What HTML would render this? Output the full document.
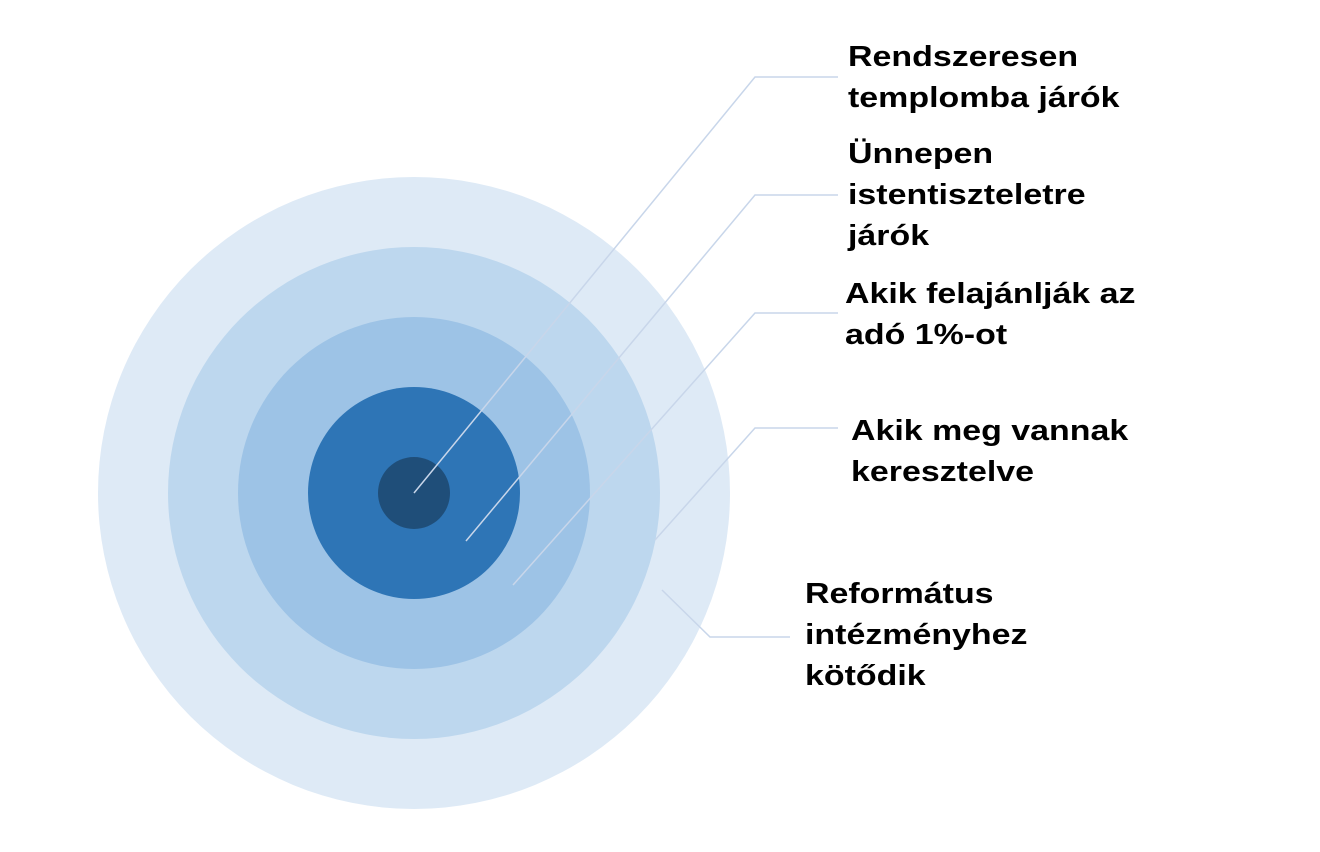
<!DOCTYPE html>
<html><head><meta charset="utf-8"><style>
html,body{margin:0;padding:0;background:#fff;width:1320px;height:852px;overflow:hidden}
.t{position:absolute;font-family:"Segoe UI","Liberation Sans",sans-serif;font-weight:bold;font-size:29px;line-height:41px;color:#000;white-space:nowrap;transform:scaleX(1.17);transform-origin:0 0}
</style></head><body>
<svg width="1320" height="852" style="position:absolute;left:0;top:0">
<circle cx="414" cy="493" r="316" fill="#deeaf6"/>
<circle cx="414" cy="493" r="246" fill="#bdd7ee"/>
<circle cx="414" cy="493" r="176" fill="#9dc3e6"/>
<circle cx="414" cy="493" r="106" fill="#2e75b6"/>
<circle cx="414" cy="493" r="36" fill="#1f4e79"/>
<g stroke="#c8d6ea" stroke-width="1.5" fill="none">
<polyline points="414,493 755,77 838,77"/>
<polyline points="466,541 755,195 838,195"/>
<polyline points="513,585 755,313 838,313"/>
<polyline points="655,540 755,428 838,428"/>
<polyline points="662,590 710,637 790,637"/>
</g>
</svg>
<div class="t" style="left:848px;top:37px">Rendszeresen<br>templomba járók</div>
<div class="t" style="left:848px;top:134px">Ünnepen<br>istentiszteletre<br>járók</div>
<div class="t" style="left:845px;top:274px">Akik felajánlják az<br>adó 1%-ot</div>
<div class="t" style="left:851px;top:411px">Akik meg vannak<br>keresztelve</div>
<div class="t" style="left:805px;top:574px">Református<br>intézményhez<br>kötődik</div>
</body></html>
